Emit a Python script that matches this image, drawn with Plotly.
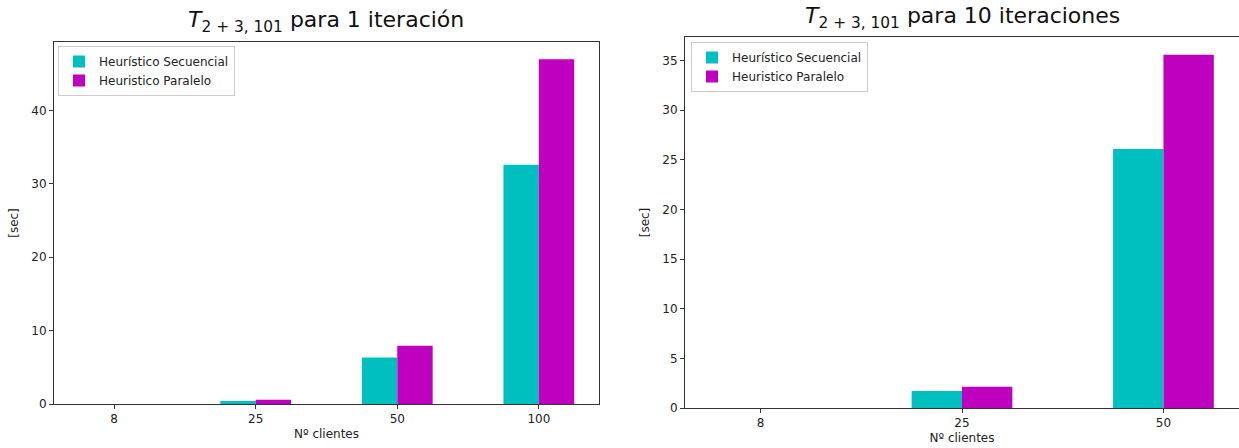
import plotly.graph_objects as go

# Client counts (categories) and timings in seconds
clientes_1 = ["8", "25", "50", "100"]
secuencial_1 = [0.0, 0.41, 6.35, 32.6]
paralelo_1 = [0.0, 0.59, 7.95, 47.0]

clientes_10 = ["8", "25", "50"]
secuencial_10 = [0.0, 1.72, 26.1]
paralelo_10 = [0.0, 2.13, 35.6]

CYAN = "#00BFBF"
MAGENTA = "#BF00BF"
FONT = "DejaVu Sans"
W, H = 1239, 448

fig = go.Figure()

fig.add_trace(go.Bar(x=clientes_1, y=secuencial_1, name="Heurístico Secuencial",
                     marker=dict(color=CYAN, line=dict(width=0)),
                     xaxis="x", yaxis="y", legend="legend"))
fig.add_trace(go.Bar(x=clientes_1, y=paralelo_1, name="Heuristico Paralelo",
                     marker=dict(color=MAGENTA, line=dict(width=0)),
                     xaxis="x", yaxis="y", legend="legend"))
fig.add_trace(go.Bar(x=clientes_10, y=secuencial_10, name="Heurístico Secuencial",
                     marker=dict(color=CYAN, line=dict(width=0)),
                     xaxis="x2", yaxis="y2", legend="legend2"))
fig.add_trace(go.Bar(x=clientes_10, y=paralelo_10, name="Heuristico Paralelo",
                     marker=dict(color=MAGENTA, line=dict(width=0)),
                     xaxis="x2", yaxis="y2", legend="legend2"))

axis_common = dict(showgrid=False, zeroline=False, showline=True, linecolor="#333",
                   linewidth=1, ticks="outside", ticklen=4, tickcolor="#333",
                   automargin=False,
                   tickfont=dict(family=FONT, size=12, color="#222"))

fig.update_layout(
    width=W, height=H, autosize=False,
    margin=dict(l=0, r=0, t=0, b=0),
    paper_bgcolor="white", plot_bgcolor="white",
    barmode="group", bargap=0.5, bargroupgap=0,
    font=dict(family=FONT, color="#222"),
    xaxis=dict(domain=[54 / W, 599 / W], anchor="y", type="category",
               range=[-0.425, 3.425], mirror=True,
               title=dict(text="Nº clientes", font=dict(family=FONT, size=12), standoff=4),
               **axis_common),
    yaxis=dict(domain=[1 - 404 / H, 1 - 42 / H], anchor="x", range=[0, 49.35],
               dtick=10, mirror=True,
               title=dict(text="[sec]", font=dict(family=FONT, size=12), standoff=10),
               **axis_common),
    xaxis2=dict(domain=[685 / W, 1.0], anchor="y2", type="category",
                range=[-0.375, 2.375], mirror=True,
                title=dict(text="Nº clientes", font=dict(family=FONT, size=12), standoff=4),
                **axis_common),
    yaxis2=dict(domain=[1 - 408 / H, 1 - 37 / H], anchor="x2", range=[0, 37.38],
                dtick=5, mirror=True,
                title=dict(text="[sec]", font=dict(family=FONT, size=12), standoff=10),
                **axis_common),
    legend=dict(x=58 / W, y=1 - 46 / H, xanchor="left", yanchor="top",
                bgcolor="rgba(255,255,255,0.8)", bordercolor="#ccc", borderwidth=1,
                font=dict(family=FONT, size=12, color="#222"), tracegroupgap=0),
    legend2=dict(x=691 / W, y=1 - 42 / H, xanchor="left", yanchor="top",
                 bgcolor="rgba(255,255,255,0.8)", bordercolor="#ccc", borderwidth=1,
                 font=dict(family=FONT, size=12, color="#222"), tracegroupgap=0),
    annotations=[
        dict(text="<i>T</i><sub>2 + 3, 101</sub> para 1 iteración", x=(54 + 599) / 2 / W,
             y=1 - 38 / H, xref="paper", yref="paper", xanchor="center", yanchor="bottom",
             showarrow=False, font=dict(family=FONT, size=22, color="#111")),
        dict(text="<i>T</i><sub>2 + 3, 101</sub> para 10 iteraciones", x=(685 + 1239) / 2 / W,
             y=1 - 34 / H, xref="paper", yref="paper", xanchor="center", yanchor="bottom",
             showarrow=False, font=dict(family=FONT, size=22, color="#111")),
    ],
)

fig.write_html("out.html")
